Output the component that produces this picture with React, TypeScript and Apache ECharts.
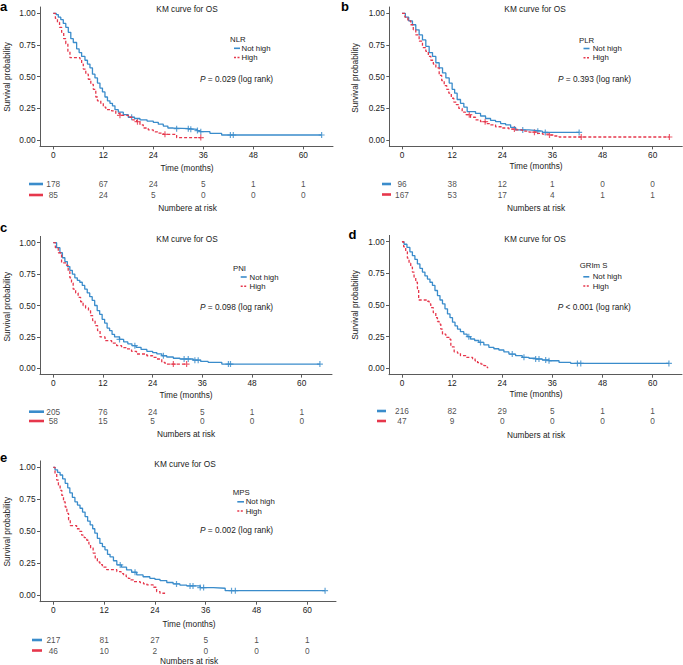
import { useEffect, useRef } from "react";
import * as echarts from "echarts";

// ---------- texts & ticks ----------
const timeTicks = [0, 12, 24, 36, 48, 60];
const survTicks = [0, 0.25, 0.5, 0.75, 1];
const groupNames = ["Not high", "High"];
const panelLetters = ["a", "b", "c", "d", "e"];
const panelTitles = ["KM curve for OS", "KM curve for OS", "KM curve for OS", "KM curve for OS", "KM curve for OS"];
const factorNames = ["NLR", "PLR", "PNI", "GRIm S", "MPS"];
const pSigns = ["=", "=", "=", "<", "="];
const pValues = ["0.029", "0.393", "0.098", "0.001", "0.002"];
const riskTitles = ["Numbere at risk", "Numbers at risk", "Numbers at risk", "Numbers at risk", "Numbers at risk"];
const xAxisName = "Time (months)";
const yAxisName = "Survival probability";

// ---------- numbers at risk (at 0,12,24,36,48,60) ----------
const riskANotHigh = [178, 67, 24, 5, 1, 1];
const riskAHigh = [85, 24, 5, 0, 0, 0];
const riskBNotHigh = [96, 38, 12, 1, 0, 0];
const riskBHigh = [167, 53, 17, 4, 1, 1];
const riskCNotHigh = [205, 76, 24, 5, 1, 1];
const riskCHigh = [58, 15, 5, 0, 0, 0];
const riskDNotHigh = [216, 82, 29, 5, 1, 1];
const riskDHigh = [47, 9, 0, 0, 0, 0];
const riskENotHigh = [217, 81, 27, 5, 1, 1];
const riskEHigh = [46, 10, 2, 0, 0, 0];

// ---------- KM curves ----------
// a: NLR
const aNotHighTime = [0, 0.7, 1.2, 1.8, 2.4, 3.0, 3.6, 4.2, 4.8, 5.6, 6.2, 6.8, 7.6, 8.2, 8.8, 9.4, 10.0, 10.6, 11.2, 11.8, 12.4, 13.0, 13.6, 14.2, 14.8, 15.6, 16.8, 18.0, 19.5, 20.8, 22.5, 24.0, 25.2, 26.4, 27.5, 28.8, 32.8, 34.5, 35.2, 37.6, 40.4, 64.4];
const aNotHighSurv = [1, 0.99, 0.97, 0.95, 0.92, 0.89, 0.85, 0.80, 0.77, 0.72, 0.69, 0.66, 0.63, 0.60, 0.57, 0.52, 0.49, 0.45, 0.41, 0.38, 0.34, 0.31, 0.29, 0.27, 0.24, 0.22, 0.20, 0.18, 0.17, 0.16, 0.15, 0.14, 0.125, 0.11, 0.095, 0.09, 0.085, 0.075, 0.066, 0.053, 0.04, 0.04];
const aNotHighCensor = [18.8, 29.6, 32.4, 33.0, 34.6, 35.4, 42.5, 43.2, 64.4];
const aHighTime = [0, 0.5, 1.0, 1.5, 2.0, 2.5, 3.0, 3.5, 4.0, 6.4, 6.8, 7.2, 7.8, 8.4, 9.0, 9.6, 10.2, 10.6, 11.4, 12.0, 12.6, 14.0, 15.0, 16.0, 18.0, 19.0, 20.0, 20.8, 21.6, 22.8, 24.0, 25.0, 26.4, 29.6, 35.4];
const aHighSurv = [1, 0.96, 0.93, 0.89, 0.85, 0.80, 0.76, 0.70, 0.65, 0.64, 0.60, 0.56, 0.52, 0.48, 0.44, 0.40, 0.34, 0.31, 0.29, 0.26, 0.24, 0.23, 0.21, 0.195, 0.18, 0.16, 0.145, 0.12, 0.095, 0.08, 0.065, 0.055, 0.045, 0.02, 0.02];
const aHighCensor = [16.0, 20.2, 26.8, 35.4];

// b: PLR
const bNotHighTime = [0, 0.8, 1.6, 2.5, 3.3, 4.1, 4.9, 5.7, 6.5, 7.3, 8.1, 8.9, 9.7, 10.5, 11.3, 12.0, 12.6, 13.2, 14.0, 14.8, 15.6, 17.6, 18.8, 20.0, 21.2, 22.4, 23.6, 24.8, 26.0, 27.2, 30.4, 32.5, 33.6, 42.4];
const bNotHighSurv = [1, 0.97, 0.94, 0.91, 0.87, 0.83, 0.79, 0.74, 0.69, 0.66, 0.61, 0.57, 0.53, 0.49, 0.45, 0.40, 0.37, 0.32, 0.29, 0.26, 0.225, 0.21, 0.19, 0.17, 0.155, 0.145, 0.13, 0.12, 0.10, 0.08, 0.075, 0.07, 0.06, 0.06];
const bNotHighCensor = [28.9, 32.5, 34.3, 42.4];
const bHighTime = [0, 0.7, 1.4, 2.1, 2.7, 3.3, 4.1, 4.9, 5.7, 6.3, 6.9, 7.5, 8.1, 8.9, 9.5, 10.1, 10.7, 11.2, 11.8, 12.4, 13.0, 13.6, 14.4, 15.2, 16.4, 17.6, 18.8, 20.0, 21.2, 22.4, 24.0, 25.6, 27.2, 28.8, 30.4, 32.0, 33.6, 35.2, 36.4, 37.6, 64.0];
const bHighSurv = [1, 0.97, 0.94, 0.91, 0.87, 0.83, 0.78, 0.73, 0.70, 0.66, 0.63, 0.60, 0.57, 0.51, 0.47, 0.43, 0.40, 0.37, 0.33, 0.30, 0.28, 0.25, 0.22, 0.20, 0.18, 0.16, 0.145, 0.13, 0.12, 0.105, 0.095, 0.087, 0.08, 0.071, 0.062, 0.053, 0.047, 0.04, 0.032, 0.024, 0.024];
const bHighCensor = [16.1, 19.9, 26.9, 31.7, 35.3, 42.9, 64.0];

// c: PNI
const cNotHighTime = [0, 0.8, 1.6, 2.2, 2.8, 3.4, 4.0, 4.6, 5.2, 5.8, 6.4, 7.0, 7.6, 8.2, 8.8, 9.4, 10.0, 10.6, 11.2, 11.8, 12.4, 13.0, 13.6, 14.2, 14.8, 16.0, 17.0, 18.0, 19.0, 20.0, 21.2, 22.6, 24.0, 25.0, 26.2, 27.4, 29.0, 30.6, 33.8, 35.6, 37.4, 40.7, 64.4];
const cNotHighSurv = [1, 0.96, 0.92, 0.88, 0.85, 0.81, 0.78, 0.75, 0.72, 0.70, 0.685, 0.66, 0.63, 0.60, 0.57, 0.54, 0.50, 0.46, 0.43, 0.39, 0.36, 0.32, 0.30, 0.27, 0.25, 0.23, 0.21, 0.195, 0.18, 0.167, 0.15, 0.135, 0.125, 0.115, 0.10, 0.09, 0.08, 0.074, 0.065, 0.055, 0.048, 0.034, 0.034];
const cNotHighCensor = [16.0, 19.7, 26.6, 31.6, 32.6, 34.2, 35.0, 42.3, 42.8, 64.4];
const cHighTime = [0, 0.5, 1.2, 2.0, 3.2, 3.6, 4.0, 4.4, 4.8, 5.4, 6.0, 6.6, 7.2, 7.8, 8.5, 9.0, 9.5, 10.1, 10.7, 11.3, 12.5, 14.1, 15.3, 16.5, 17.7, 18.9, 20.1, 22.6, 24.0, 25.0, 26.2, 27.0, 32.2];
const cHighSurv = [1, 0.96, 0.92, 0.84, 0.82, 0.77, 0.72, 0.68, 0.63, 0.60, 0.565, 0.53, 0.50, 0.48, 0.46, 0.42, 0.38, 0.34, 0.30, 0.25, 0.22, 0.20, 0.18, 0.165, 0.154, 0.135, 0.114, 0.10, 0.087, 0.074, 0.048, 0.034, 0.034];
const cHighCensor = [29.0, 32.2];

// d: GRIm S
const dNotHighTime = [0, 0.5, 1.2, 1.9, 2.5, 3.1, 3.7, 4.3, 4.9, 5.5, 6.1, 6.7, 7.3, 7.9, 8.5, 9.1, 9.7, 10.3, 10.9, 11.5, 12.1, 12.7, 13.3, 14.0, 14.8, 15.6, 16.4, 17.4, 18.4, 19.6, 20.8, 22.0, 23.2, 24.4, 25.6, 27.2, 28.8, 30.4, 32.0, 33.6, 35.2, 37.6, 40.4, 63.9];
const dNotHighSurv = [1, 0.98, 0.955, 0.92, 0.89, 0.86, 0.825, 0.79, 0.76, 0.73, 0.705, 0.68, 0.655, 0.615, 0.575, 0.54, 0.51, 0.47, 0.43, 0.40, 0.365, 0.335, 0.31, 0.29, 0.27, 0.25, 0.232, 0.22, 0.205, 0.185, 0.166, 0.155, 0.145, 0.13, 0.113, 0.10, 0.087, 0.08, 0.074, 0.066, 0.06, 0.047, 0.039, 0.039];
const dNotHighCensor = [16.0, 18.8, 26.4, 29.2, 32.0, 32.8, 34.4, 35.2, 42.0, 42.8, 63.9];
const dHighTime = [0, 0.4, 0.9, 1.3, 1.7, 2.1, 2.5, 2.9, 3.3, 3.7, 4.0, 6.1, 6.5, 6.9, 7.5, 8.1, 8.5, 8.9, 9.3, 9.7, 10.5, 11.3, 11.7, 12.5, 13.3, 14.0, 15.3, 16.9, 17.5, 18.1, 18.9, 19.6, 20.1, 20.5];
const dHighSurv = [1, 0.96, 0.92, 0.87, 0.83, 0.80, 0.76, 0.72, 0.68, 0.63, 0.54, 0.53, 0.51, 0.48, 0.44, 0.40, 0.37, 0.35, 0.31, 0.27, 0.245, 0.23, 0.17, 0.13, 0.12, 0.10, 0.087, 0.075, 0.06, 0.045, 0.034, 0.021, 0.01, 0.0];
const dHighCensor: number[] = [];

// e: MPS
const eNotHighTime = [0, 0.4, 1.0, 1.6, 2.2, 2.8, 3.4, 3.9, 4.5, 5.1, 5.7, 6.3, 6.9, 7.5, 8.1, 8.7, 9.3, 9.8, 10.4, 11.0, 11.6, 12.2, 12.8, 13.4, 14.2, 15.0, 16.1, 17.3, 18.5, 19.7, 21.2, 22.8, 24.0, 25.2, 26.8, 28.3, 29.9, 31.5, 34.7, 37.8, 40.6, 64.2];
const eNotHighSurv = [1, 0.98, 0.96, 0.94, 0.91, 0.875, 0.84, 0.80, 0.765, 0.73, 0.705, 0.68, 0.65, 0.615, 0.58, 0.55, 0.52, 0.485, 0.445, 0.405, 0.38, 0.355, 0.32, 0.30, 0.27, 0.237, 0.22, 0.198, 0.18, 0.159, 0.145, 0.133, 0.125, 0.115, 0.10, 0.089, 0.08, 0.073, 0.06, 0.055, 0.036, 0.036];
const eNotHighCensor = [15.8, 19.3, 29.1, 32.3, 33.0, 34.7, 35.5, 42.1, 43.0, 64.2];
const eHighTime = [0, 0.4, 0.8, 1.2, 1.6, 2.0, 2.4, 2.8, 3.2, 3.6, 4.0, 5.5, 6.1, 6.7, 7.3, 7.9, 8.4, 8.8, 9.4, 9.9, 10.4, 11.0, 11.6, 12.6, 15.0, 16.0, 16.6, 17.2, 17.7, 18.3, 18.9, 20.5, 21.3, 22.1, 23.6, 24.4, 25.2, 26.4];
const eHighSurv = [1, 0.95, 0.90, 0.86, 0.82, 0.78, 0.73, 0.69, 0.64, 0.59, 0.545, 0.52, 0.50, 0.47, 0.45, 0.43, 0.40, 0.37, 0.33, 0.29, 0.26, 0.24, 0.22, 0.20, 0.185, 0.17, 0.16, 0.146, 0.133, 0.12, 0.107, 0.099, 0.09, 0.081, 0.063, 0.029, 0.016, 0.016];
const eHighCensor: number[] = [];

// ---------- layout (positions & sizes only) ----------
const layouts = [
  { left: 40, top: 7, width: 293, height: 139.4, xMin: -3.19, xMax: 67.13, letter: [0, 0], title: [187, 9], yName: [6.5, 77], timeName: [187, 167.5], riskName: [187.5, 208], riskRows: [184, 195], riskKey: [29, 43], legTitle: [230, 39], legKey: [234, 240], legText: 241.5, legY: [48.3, 57.5], pVal: [200, 79] },
  { left: 389.3, top: 7, width: 293, height: 139.4, xMin: -3.04, xMax: 67.09, letter: [341, 0], title: [535, 9], yName: [354.5, 78], timeName: [536, 165.5], riskName: [536, 208], riskRows: [184, 194.5], riskKey: [382, 391], legTitle: [579, 40], legKey: [583.5, 589.5], legText: 592.7, legY: [48.5, 57.7], pVal: [558, 79] },
  { left: 40, top: 236.4, width: 292, height: 138.2, xMin: -3.21, xMax: 67.32, letter: [0, 221], title: [187, 239.3], yName: [6.5, 306.7], timeName: [186, 395], riskName: [186, 434.3], riskRows: [411.7, 421], riskKey: [29, 44], legTitle: [233, 268.8], legKey: [240.7, 246.7], legText: 249.5, legY: [277, 286.2], pVal: [200, 306.7] },
  { left: 389, top: 235.4, width: 293, height: 139.3, xMin: -3.1, xMax: 67.03, letter: [348.5, 227.5], title: [535, 239.3], yName: [354.5, 305], timeName: [536, 394], riskName: [536, 435], riskRows: [411, 421], riskKey: [377, 386], legTitle: [579.7, 265], legKey: [583.3, 589.3], legText: 592.7, legY: [276.8, 286], pVal: [557.7, 307.3] },
  { left: 40, top: 460.9, width: 296, height: 140.8, xMin: -3.15, xMax: 66.78, letter: [0, 451], title: [185, 464], yName: [6.5, 531.7], timeName: [189, 624], riskName: [189, 661], riskRows: [640, 650.5], riskKey: [32, 42], legTitle: [232.7, 492.2], legKey: [237.3, 244], legText: 245.7, legY: [501.8, 511], pVal: [200, 530] },
];

const BLUE = "#3a8ccb";
const RED = "#e6374c";
const AXIS = "#5a5a5a";
const TEXT = "#222222";
const FONT = "'Liberation Sans', Arial, Helvetica, sans-serif";
const FS = 8.3;
const LEG_FS = 7.8;
const PLUS = "path://M4,0L6,0L6,4L10,4L10,6L6,6L6,10L4,10L4,6L0,6L0,4L4,4Z";

const panels = [
  { nhT: aNotHighTime, nhS: aNotHighSurv, nhC: aNotHighCensor, hT: aHighTime, hS: aHighSurv, hC: aHighCensor, rNH: riskANotHigh, rH: riskAHigh },
  { nhT: bNotHighTime, nhS: bNotHighSurv, nhC: bNotHighCensor, hT: bHighTime, hS: bHighSurv, hC: bHighCensor, rNH: riskBNotHigh, rH: riskBHigh },
  { nhT: cNotHighTime, nhS: cNotHighSurv, nhC: cNotHighCensor, hT: cHighTime, hS: cHighSurv, hC: cHighCensor, rNH: riskCNotHigh, rH: riskCHigh },
  { nhT: dNotHighTime, nhS: dNotHighSurv, nhC: dNotHighCensor, hT: dHighTime, hS: dHighSurv, hC: dHighCensor, rNH: riskDNotHigh, rH: riskDHigh },
  { nhT: eNotHighTime, nhS: eNotHighSurv, nhC: eNotHighCensor, hT: eHighTime, hS: eHighSurv, hC: eHighCensor, rNH: riskENotHigh, rH: riskEHigh },
];

function survAt(ts: number[], ss: number[], t: number) {
  let v = ss[0];
  for (let i = 0; i < ts.length; i++) {
    if (ts[i] <= t) v = ss[i];
    else break;
  }
  return v;
}

function txt(x: number, y: number, text: string, extra: any = {}, elExtra: any = {}) {
  return {
    type: "text",
    x,
    y,
    silent: true,
    ...elExtra,
    style: { text, fontSize: FS, fontFamily: FONT, fill: TEXT, align: "left", verticalAlign: "middle", ...extra },
  };
}

function buildOption() {
  const grid: any[] = [];
  const xAxis: any[] = [];
  const yAxis: any[] = [];
  const series: any[] = [];
  const graphic: any[] = [];

  panels.forEach((p, i) => {
    const L = layouts[i];
    const gp = 2 * i;
    const gr = 2 * i + 1;
    grid.push({ left: L.left, top: L.top, width: L.width, height: L.height, containLabel: false });
    const rowGap = L.riskRows[1] - L.riskRows[0];
    grid.push({ left: L.left, top: L.riskRows[0] - rowGap / 2, width: L.width, height: 2 * rowGap, containLabel: false });

    xAxis.push({
      type: "value", gridIndex: gp, min: L.xMin, max: L.xMax,
      axisLine: { show: true, onZero: false, lineStyle: { color: AXIS, width: 1 } },
      axisTick: { show: true, customValues: timeTicks, length: 3, lineStyle: { color: AXIS } },
      axisLabel: { customValues: timeTicks, formatter: (v: number) => String(v), color: TEXT, fontSize: FS, fontFamily: FONT, margin: 4.5 },
      splitLine: { show: false },
    });
    xAxis.push({ type: "value", gridIndex: gr, min: L.xMin, max: L.xMax, show: false });
    yAxis.push({
      type: "value", gridIndex: gp, min: -0.05, max: 1.05,
      axisLine: { show: true, onZero: false, lineStyle: { color: AXIS, width: 1 } },
      axisTick: { show: true, customValues: survTicks, length: 3, lineStyle: { color: AXIS } },
      axisLabel: { customValues: survTicks, formatter: (v: number) => v.toFixed(2), color: TEXT, fontSize: FS, fontFamily: FONT, margin: 4.5 },
      splitLine: { show: false },
    });
    yAxis.push({ type: "category", gridIndex: gr, data: groupNames, inverse: true, show: false });

    const curves = [
      { t: p.nhT, s: p.nhS, c: p.nhC, color: BLUE, dash: "solid" as any, name: groupNames[0], risk: p.rNH },
      { t: p.hT, s: p.hS, c: p.hC, color: RED, dash: [3, 2] as any, name: groupNames[1], risk: p.rH },
    ];
    curves.forEach((cv) => {
      series.push({
        type: "line", xAxisIndex: gp, yAxisIndex: gp, step: "end", symbol: "none", silent: true,
        data: cv.t.map((t, k) => [t, cv.s[k]]),
        lineStyle: { color: cv.color, width: 1.3, type: cv.dash },
      });
      series.push({
        type: "scatter", xAxisIndex: gp, yAxisIndex: gp, symbol: PLUS, symbolSize: 6, silent: true,
        data: cv.c.map((t) => [t, survAt(cv.t, cv.s, t)]),
        itemStyle: { color: cv.color },
      });
      series.push({
        type: "scatter", xAxisIndex: gr, yAxisIndex: gr, symbolSize: 0, silent: true,
        data: timeTicks.map((t, k) => [t, cv.name, cv.risk[k]]),
        itemStyle: { color: "rgba(0,0,0,0)" },
        label: { show: true, position: "inside", formatter: (q: any) => String(q.value[2]), color: TEXT, fontSize: FS, fontFamily: FONT },
      });
      // risk table key
      const ry = cv.name === groupNames[0] ? L.riskRows[0] : L.riskRows[1];
      graphic.push({ type: "rect", silent: true, shape: { x: L.riskKey[0], y: ry - 1.3, width: L.riskKey[1] - L.riskKey[0], height: 2.6 }, style: { fill: cv.color } });
    });

    // texts
    graphic.push(txt(L.letter[0], L.letter[1], panelLetters[i], { fontSize: 13, fontWeight: "bold", fill: "#000", verticalAlign: "top", lineHeight: 13 }));
    graphic.push(txt(L.title[0], L.title[1], panelTitles[i], { align: "center" }));
    graphic.push(txt(L.yName[0], L.yName[1], yAxisName, { align: "center" }, { rotation: Math.PI / 2 }));
    graphic.push(txt(L.timeName[0], L.timeName[1], xAxisName, { align: "center" }));
    graphic.push(txt(L.riskName[0], L.riskName[1], riskTitles[i], { align: "center" }));
    // legend
    graphic.push(txt(L.legTitle[0], L.legTitle[1], factorNames[i], { fontSize: LEG_FS, lineHeight: 8 }));
    graphic.push({ type: "line", silent: true, shape: { x1: L.legKey[0], y1: L.legY[0], x2: L.legKey[1], y2: L.legY[0] }, style: { stroke: BLUE, lineWidth: 1.6 } });
    graphic.push({ type: "line", silent: true, shape: { x1: L.legKey[0], y1: L.legY[1], x2: L.legKey[1], y2: L.legY[1] }, style: { stroke: RED, lineWidth: 1.6, lineDash: [2, 1.5] } });
    graphic.push(txt(L.legText, L.legY[0], groupNames[0], { fontSize: LEG_FS, lineHeight: 8 }));
    graphic.push(txt(L.legText, L.legY[1], groupNames[1], { fontSize: LEG_FS, lineHeight: 8 }));
    // p value
    graphic.push({
      type: "text", x: L.pVal[0], y: L.pVal[1], silent: true,
      style: {
        text: `{i|P} ${pSigns[i]} ${pValues[i]} (log rank)`,
        fontSize: FS, fontFamily: FONT, fill: TEXT, align: "left", verticalAlign: "middle",
        rich: { i: { fontStyle: "italic", fontSize: FS, fontFamily: FONT, fill: TEXT } },
      },
    });
  });

  return { animation: false, backgroundColor: "#ffffff", grid, xAxis, yAxis, series, graphic };
}

export default function App() {
  const ref = useRef<HTMLDivElement>(null);
  useEffect(() => {
    document.body.style.margin = "0";
    if (!ref.current) return;
    const chart = echarts.init(ref.current, undefined, { renderer: "svg" });
    chart.setOption(buildOption() as any);
    return () => chart.dispose();
  }, []);
  return <div ref={ref} style={{ width: 683, height: 665 }} />;
}
